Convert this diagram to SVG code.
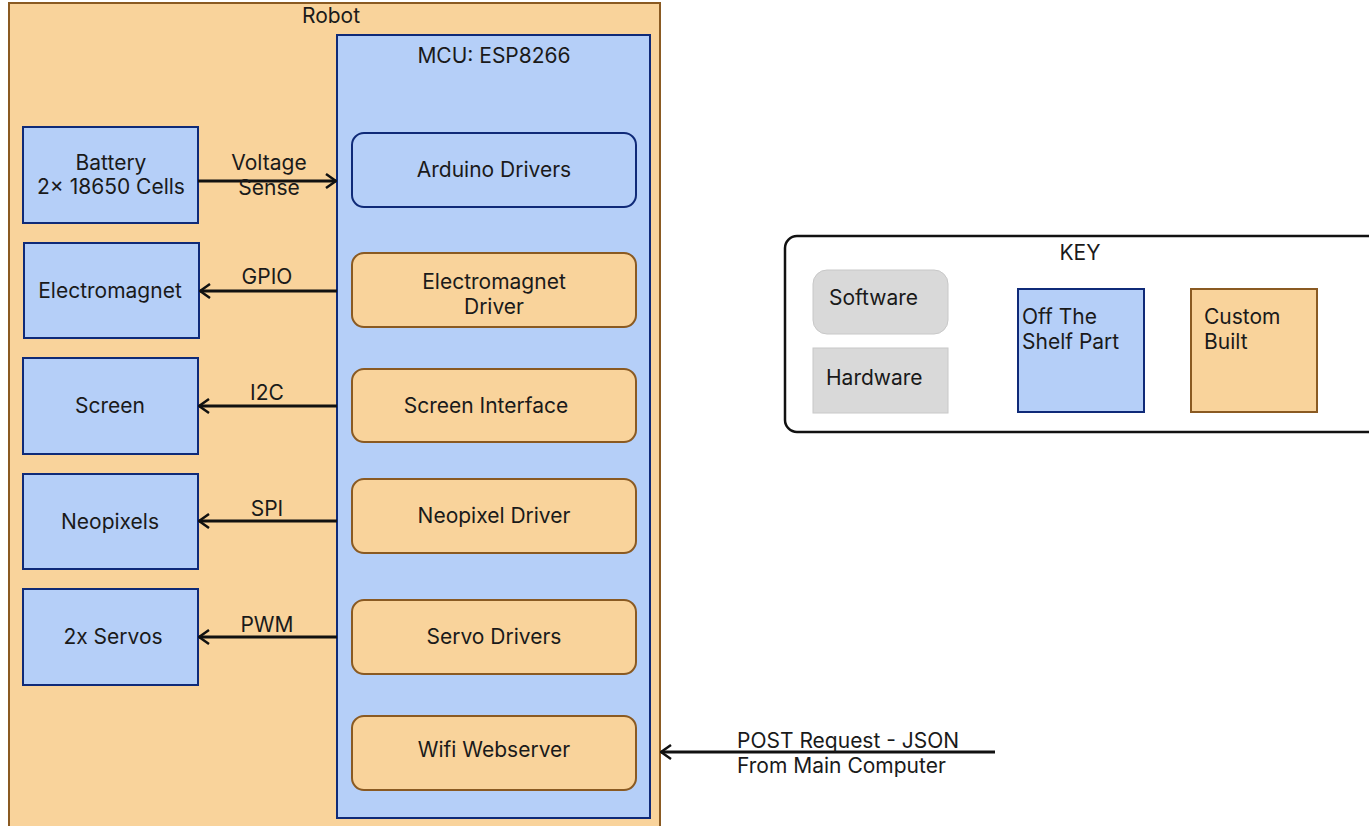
<svg xmlns="http://www.w3.org/2000/svg" width="1369" height="826" viewBox="0 0 1369 826">
  <defs>
    <style>
      text { font-family: Inter, "Noto Sans", "Liberation Sans", sans-serif; font-size: 21px; fill: #1a1a1a; }
      .c { text-anchor: middle; }
      .hw { fill: #b5cff8; stroke: #0f2a78; stroke-width: 2; }
      .custom { fill: #f9d39b; stroke: #8a5a22; stroke-width: 2; }
      .sw-blue { fill: #b5cff8; stroke: #0f2a78; stroke-width: 2; }
      .sw-orange { fill: #f9d39b; stroke: #8a5a22; stroke-width: 2; }
      .edge { stroke: #111; stroke-width: 3; fill: none; }
    </style>
    <marker id="arrow" viewBox="0 0 12 16" refX="11" refY="8" markerWidth="12" markerHeight="16" markerUnits="userSpaceOnUse" orient="auto">
      <path d="M1,1 L11,8 L1,15" fill="none" stroke="#111" stroke-width="2.5"/>
    </marker>
  </defs>

  <rect width="1369" height="826" fill="#ffffff"/>

  <!-- Robot container -->
  <g id="robot">
    <rect x="9" y="3" width="651" height="840" class="custom"/>
    <text x="331" y="23" class="c">Robot</text>
  </g>

  <!-- Microcontroller -->
  <g id="mcu">
    <rect x="337" y="35" width="313" height="783" class="hw"/>
    <text x="494" y="63" class="c">MCU: ESP8266</text>
  </g>

  <!-- Firmware modules -->
  <g id="arduino-drivers">
    <rect x="352" y="133" width="284" height="74" rx="12" class="sw-blue"/>
    <text x="494" y="177" class="c">Arduino Drivers</text>
  </g>
  <g id="electromagnet-driver">
    <rect x="352" y="253" width="284" height="74" rx="12" class="sw-orange"/>
    <text x="494" y="289" class="c">Electromagnet</text>
    <text x="494" y="314" class="c">Driver</text>
  </g>
  <g id="screen-interface">
    <rect x="352" y="369" width="284" height="73" rx="12" class="sw-orange"/>
    <text x="486" y="413" class="c">Screen Interface</text>
  </g>
  <g id="neopixel-driver">
    <rect x="352" y="479" width="284" height="74" rx="12" class="sw-orange"/>
    <text x="494" y="523" class="c">Neopixel Driver</text>
  </g>
  <g id="servo-drivers">
    <rect x="352" y="600" width="284" height="74" rx="12" class="sw-orange"/>
    <text x="494" y="644" class="c">Servo Drivers</text>
  </g>
  <g id="wifi-webserver">
    <rect x="352" y="716" width="284" height="74" rx="12" class="sw-orange"/>
    <text x="494" y="757" class="c">Wifi Webserver</text>
  </g>

  <!-- Peripheral hardware -->
  <g id="battery">
    <rect x="23" y="127" width="175" height="96" class="hw"/>
    <text x="111" y="170" class="c">Battery</text>
    <text x="111" y="194" class="c">2× 18650 Cells</text>
  </g>
  <g id="electromagnet">
    <rect x="24" y="243" width="175" height="95" class="hw"/>
    <text x="110" y="298" class="c">Electromagnet</text>
  </g>
  <g id="screen">
    <rect x="23" y="358" width="175" height="96" class="hw"/>
    <text x="110" y="413" class="c">Screen</text>
  </g>
  <g id="neopixels">
    <rect x="23" y="474" width="175" height="95" class="hw"/>
    <text x="110" y="529" class="c">Neopixels</text>
  </g>
  <g id="servos">
    <rect x="23" y="589" width="175" height="96" class="hw"/>
    <text x="113" y="644" class="c">2x Servos</text>
  </g>

  <!-- Connectors -->
  <g id="connectors">
    <line x1="198" y1="181" x2="336" y2="181" class="edge" marker-end="url(#arrow)"/>
    <text x="269" y="170" class="c">Voltage</text>
    <text x="269" y="195" class="c">Sense</text>

    <line x1="337" y1="291" x2="200" y2="291" class="edge" marker-end="url(#arrow)"/>
    <text x="267" y="284" class="c">GPIO</text>

    <line x1="337" y1="406" x2="199" y2="406" class="edge" marker-end="url(#arrow)"/>
    <text x="267" y="400" class="c">I2C</text>

    <line x1="337" y1="521" x2="199" y2="521" class="edge" marker-end="url(#arrow)"/>
    <text x="267" y="516" class="c">SPI</text>

    <line x1="337" y1="637" x2="199" y2="637" class="edge" marker-end="url(#arrow)"/>
    <text x="267" y="632" class="c">PWM</text>

    <line x1="995" y1="752" x2="661" y2="752" class="edge" marker-end="url(#arrow)"/>
    <text x="737" y="748">POST Request - JSON</text>
    <text x="737" y="773">From Main Computer</text>
  </g>

  <!-- Legend -->
  <g id="key">
    <rect x="785" y="236" width="600" height="196" rx="12" fill="#ffffff" stroke="#111" stroke-width="2.5"/>
    <text x="1080" y="260" class="c">KEY</text>
  </g>
  <g id="key-software">
    <rect x="813" y="270" width="135" height="64" rx="14" fill="#d9d9d9" stroke="#c8c8c8" stroke-width="1"/>
    <text x="829" y="305">Software</text>
  </g>
  <g id="key-hardware">
    <rect x="813" y="348" width="135" height="65" fill="#d9d9d9" stroke="#c8c8c8" stroke-width="1"/>
    <text x="826" y="385">Hardware</text>
  </g>
  <g id="key-off-the-shelf">
    <rect x="1018" y="289" width="126" height="123" class="hw"/>
    <text x="1022" y="324">Off The</text>
    <text x="1022" y="349">Shelf Part</text>
  </g>
  <g id="key-custom">
    <rect x="1191" y="289" width="126" height="123" class="custom" stroke="#6e4516"/>
    <text x="1204" y="324">Custom</text>
    <text x="1204" y="349">Built</text>
  </g>
</svg>
